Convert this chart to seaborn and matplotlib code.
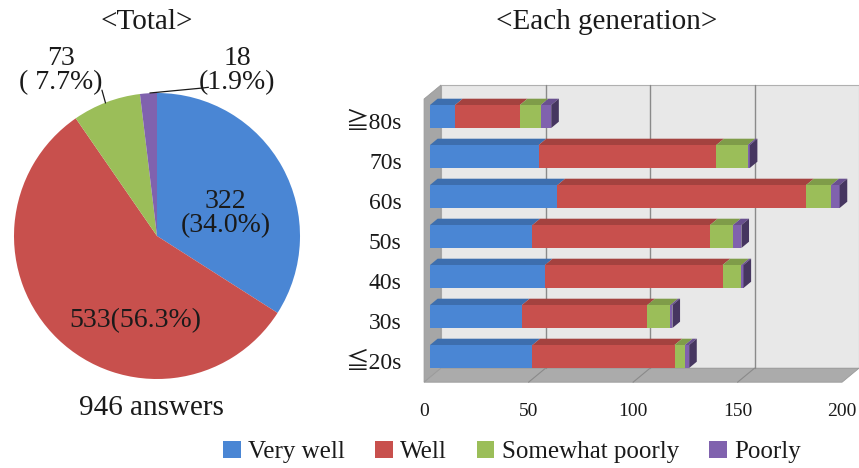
import numpy as np
import matplotlib
matplotlib.use("Agg")
import matplotlib.pyplot as plt
from matplotlib.patches import Polygon, Rectangle, Patch
import matplotlib.colors as mcolors
import seaborn as sns

# ---- data -------------------------------------------------------------
generations = ["≧80s", "70s", "60s", "50s", "40s", "30s", "≦20s"]
very_well = [12, 52, 61, 49, 55, 44, 49]
well = [31, 85, 119, 85, 85, 60, 68]
somewhat_poorly = [10, 15, 12, 11, 9, 11, 5]
poorly = [5, 1, 4, 4, 1, 1, 2]
series_names = ["Very well", "Well", "Somewhat poorly", "Poorly"]
total_counts = [322, 533, 73, 18]
x_ticks = [0, 50, 100, 150, 200]

colors = ["#4A86D4", "#C8504D", "#9BBE59", "#8062AE"]
TEXT = "#1a1a1a"

sns.set_theme(style="white")
plt.rcParams["font.family"] = ["Liberation Serif", "Noto Sans CJK JP", "DejaVu Sans"]

W, H = 859, 468
fig = plt.figure(figsize=(W / 100, H / 100), dpi=100)
fig.patch.set_facecolor("white")


def darker(c, f):
    r, g, b = mcolors.to_rgb(c)
    return (r * f, g * f, b * f)


# ---- pie: total ------------------------------------------------------
ax_pie = fig.add_axes([14 / W, 1 - 379 / H, 286 / W, 286 / H])
ax_pie.pie(total_counts, colors=colors, startangle=90, counterclock=False,
           radius=1.0, wedgeprops=dict(linewidth=0))
ax_pie.set_xlim(-1.0, 1.0)
ax_pie.set_ylim(-1.0, 1.0)
ax_pie.set_aspect("equal")
ax_pie.axis("off")

tot = sum(total_counts)
pct = [v / tot * 100 for v in total_counts]
lbl_kw = dict(ha="center", va="center", fontsize=20, color=TEXT,
              linespacing=0.95, clip_on=False)
ax_pie.text(0.48, 0.16, f"{total_counts[0]}\n({pct[0]:.1f}%)", **lbl_kw)
ax_pie.text(-0.15, -0.59, f"{total_counts[1]}({pct[1]:.1f}%)", **lbl_kw)
ax_pie.text(-0.67, 1.16, f"{total_counts[2]}\n( {pct[2]:.1f}%)", **lbl_kw)
ax_pie.text(0.56, 1.16, f"{total_counts[3]}\n({pct[3]:.1f}%)", **lbl_kw)
ax_pie.plot([-0.385, -0.36], [1.02, 0.93], color=TEXT, lw=0.9, clip_on=False)
ax_pie.plot([-0.05, 0.32, 0.36], [1.0, 1.035, 1.04], color=TEXT, lw=0.9,
            clip_on=False)

fig.text(147 / W, 1 - 22 / H, "<Total>", ha="center", va="center",
         fontsize=21, color=TEXT)
fig.text(151 / W, 1 - 408 / H, f"{tot} answers", ha="center", va="center",
         fontsize=21, color=TEXT)

# ---- stacked 3-D style bars: each generation --------------------------
ax = fig.add_axes([424 / W, 1 - 382 / H, (W - 424) / W, (382 - 80) / H])

stack = np.array([very_well, well, somewhat_poorly, poorly], dtype=float)
cum = np.cumsum(stack, axis=0)
bar_h = 0.575

for k in reversed(range(4)):
    sns.barplot(x=cum[k], y=generations, color=colors[k], orient="h",
                width=bar_h, saturation=1, linewidth=0, ax=ax, zorder=2)

px_per_val, px_per_cat = 2.09, 40.0
ax.set_xlim((424 - 430) / px_per_val, (W - 430) / px_per_val)
ax.set_ylim((382 - 116.5) / px_per_cat, (80 - 116.5) / px_per_cat)

# depth vector of the box (value units, category units)
Dx, Dy = 8.1, -0.35
fx, fy = -0.35 * Dx, -0.35 * Dy     # front plane
bx, by = 0.65 * Dx, 0.65 * Dy       # back plane
y_top, y_bot = -0.56, 6.52
vmax = x_ticks[-1]

ax.add_patch(Rectangle((bx, y_top + by), vmax, (y_bot - y_top),
                       facecolor="#e8e8e8", edgecolor="#b0b0b0", lw=0.8,
                       zorder=0.2, clip_on=False))
ax.add_patch(Polygon([(fx, y_bot + fy), (bx, y_bot + by), (bx, y_top + by),
                      (fx, y_top + fy)], closed=True, facecolor="#a6a6a6",
                     edgecolor="#9a9a9a", lw=0.6, zorder=0.3, clip_on=False))
ax.add_patch(Polygon([(fx, y_bot + fy), (vmax + fx, y_bot + fy),
                      (vmax + bx, y_bot + by), (bx, y_bot + by)], closed=True,
                     facecolor="#ababab", edgecolor="#9a9a9a", lw=0.6,
                     zorder=0.3, clip_on=False))
for v in x_ticks[1:-1]:
    ax.plot([v + bx, v + bx], [y_top + by, y_bot + by], color="#8a8a8a",
            lw=1.0, zorder=0.4, clip_on=False)
    ax.plot([v + bx, v + fx], [y_bot + by, y_bot + fy], color="#8a8a8a",
            lw=0.8, zorder=0.4, clip_on=False)

# bar tops and end faces
ddx, ddy = 0.45 * Dx, 0.45 * Dy
for i in range(len(generations)):
    yt, yb = i - bar_h / 2, i + bar_h / 2
    left = 0.0
    for k in range(4):
        right = cum[k][i]
        if right > left:
            ax.add_patch(Polygon([(left, yt), (right, yt), (right + ddx, yt + ddy),
                                  (left + ddx, yt + ddy)], closed=True,
                                 facecolor=darker(colors[k], 0.82), lw=0,
                                 zorder=3, clip_on=False))
        left = right
    end = cum[-1][i]
    ax.add_patch(Polygon([(end, yt), (end + ddx, yt + ddy), (end + ddx, yb + ddy),
                          (end, yb)], closed=True,
                         facecolor=darker(colors[-1], 0.55), lw=0, zorder=3,
                         clip_on=False))

ax.set_yticks(np.arange(len(generations)) + fy, generations)
ax.set_xticks([v + fx for v in x_ticks], [str(v) for v in x_ticks])
ax.tick_params(axis="y", length=0, pad=16, labelsize=17, labelcolor=TEXT)
ax.tick_params(axis="x", length=0, pad=15, labelsize=14, labelcolor=TEXT)
ax.set_xlabel("")
ax.set_ylabel("")
for s in ax.spines.values():
    s.set_visible(False)
ax.set_facecolor("none")
ax.grid(False)

fig.text(607 / W, 1 - 22 / H, "<Each generation>", ha="center", va="center",
         fontsize=21, color=TEXT)

# ---- legend -----------------------------------------------------------
handles = [Patch(facecolor=c, edgecolor="none") for c in colors]
fig.legend(handles, series_names, loc="center",
           bbox_to_anchor=(512 / W, 1 - 452 / H), ncol=4, frameon=False,
           fontsize=18, handlelength=0.7, handleheight=0.7,
           handletextpad=0.3, columnspacing=1.2, labelcolor=TEXT)

fig.savefig("out.png", dpi=100, facecolor="white")
